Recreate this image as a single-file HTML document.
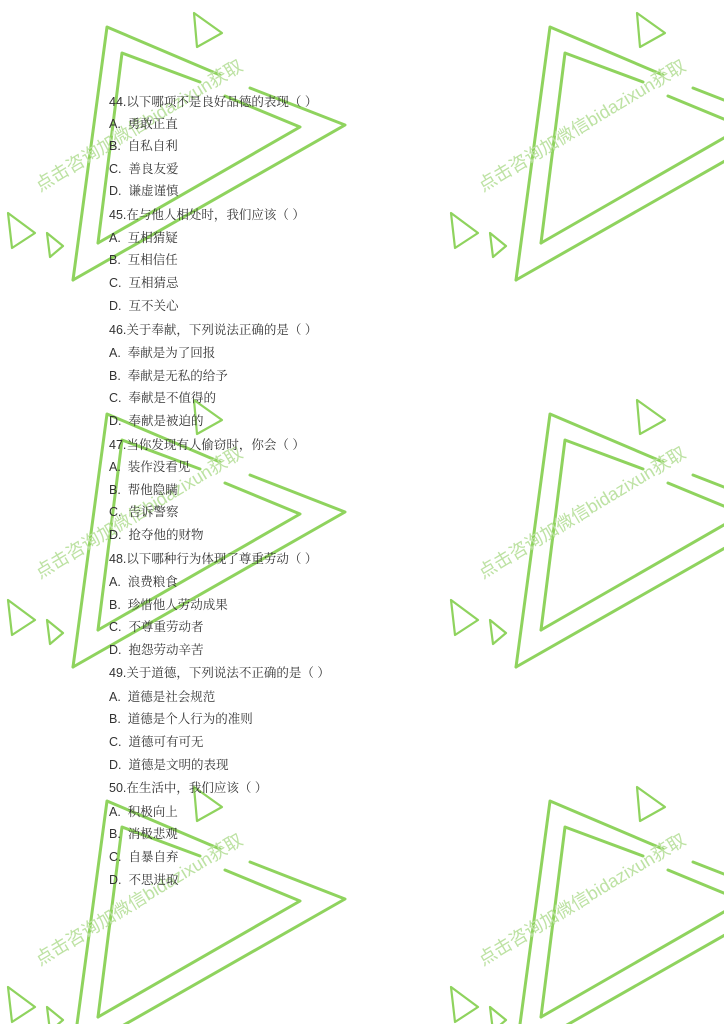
<!DOCTYPE html>
<html><head><meta charset="utf-8">
<style>
html,body{margin:0;padding:0;background:#fff;}
body{width:724px;height:1024px;position:relative;overflow:hidden;}
svg{position:absolute;left:0;top:0;}
.t{position:absolute;left:109px;font-family:"Liberation Sans","Noto Serif CJK SC",serif;font-size:12.5px;color:#333;white-space:pre;line-height:14px;}
.wm{font-family:"Liberation Sans","Noto Sans CJK SC",sans-serif;font-size:18px;fill:#bde2a3;}
</style></head><body>
<svg width="724" height="1024" viewBox="0 0 724 1024">
<defs>
<g id="tile" fill="none" stroke="#8fd35e" stroke-width="3" stroke-linecap="round" stroke-linejoin="round">
  <polyline points="73,280 107,27 220,75"/>
  <polyline points="250,88 345,125 73,280"/>
  <polyline points="98,243 122,53 200,82"/>
  <polyline points="225,96 300,127 98,243"/>
  <polygon points="194,13 222,33 197,47" stroke-width="2.2"/>
  <polygon points="8,213 35,233 12,248" stroke-width="2.2"/>
  <polygon points="47,233 63,246 50,257" stroke-width="2.2"/>
</g>
</defs>
<use href="#tile" x="0" y="0"/><use href="#tile" x="443" y="0"/>
<use href="#tile" x="0" y="387"/><use href="#tile" x="443" y="387"/>
<use href="#tile" x="0" y="774"/><use href="#tile" x="443" y="774"/>
<text class="wm" transform="translate(40,192) rotate(-31)">点击咨询加微信bidazixun获取</text>
<text class="wm" transform="translate(483,192) rotate(-31)">点击咨询加微信bidazixun获取</text>
<text class="wm" transform="translate(40,579) rotate(-31)">点击咨询加微信bidazixun获取</text>
<text class="wm" transform="translate(483,579) rotate(-31)">点击咨询加微信bidazixun获取</text>
<text class="wm" transform="translate(40,966) rotate(-31)">点击咨询加微信bidazixun获取</text>
<text class="wm" transform="translate(483,966) rotate(-31)">点击咨询加微信bidazixun获取</text>
</svg>
<div class="t" style="top:95px">44.以下哪项不是良好品德的表现（ ）</div>
<div class="t" style="top:117px">A.  勇敢正直</div>
<div class="t" style="top:139px">B.  自私自利</div>
<div class="t" style="top:162px">C.  善良友爱</div>
<div class="t" style="top:184px">D.  谦虚谨慎</div>
<div class="t" style="top:208px">45.在与他人相处时，我们应该（ ）</div>
<div class="t" style="top:231px">A.  互相猜疑</div>
<div class="t" style="top:253px">B.  互相信任</div>
<div class="t" style="top:276px">C.  互相猜忌</div>
<div class="t" style="top:299px">D.  互不关心</div>
<div class="t" style="top:323px">46.关于奉献，下列说法正确的是（ ）</div>
<div class="t" style="top:346px">A.  奉献是为了回报</div>
<div class="t" style="top:369px">B.  奉献是无私的给予</div>
<div class="t" style="top:391px">C.  奉献是不值得的</div>
<div class="t" style="top:414px">D.  奉献是被迫的</div>
<div class="t" style="top:438px">47.当你发现有人偷窃时，你会（ ）</div>
<div class="t" style="top:460px">A.  装作没看见</div>
<div class="t" style="top:483px">B.  帮他隐瞒</div>
<div class="t" style="top:505px">C.  告诉警察</div>
<div class="t" style="top:528px">D.  抢夺他的财物</div>
<div class="t" style="top:552px">48.以下哪种行为体现了尊重劳动（ ）</div>
<div class="t" style="top:575px">A.  浪费粮食</div>
<div class="t" style="top:598px">B.  珍惜他人劳动成果</div>
<div class="t" style="top:620px">C.  不尊重劳动者</div>
<div class="t" style="top:643px">D.  抱怨劳动辛苦</div>
<div class="t" style="top:666px">49.关于道德，下列说法不正确的是（ ）</div>
<div class="t" style="top:690px">A.  道德是社会规范</div>
<div class="t" style="top:712px">B.  道德是个人行为的准则</div>
<div class="t" style="top:735px">C.  道德可有可无</div>
<div class="t" style="top:758px">D.  道德是文明的表现</div>
<div class="t" style="top:781px">50.在生活中，我们应该（ ）</div>
<div class="t" style="top:805px">A.  积极向上</div>
<div class="t" style="top:827px">B.  消极悲观</div>
<div class="t" style="top:850px">C.  自暴自弃</div>
<div class="t" style="top:873px">D.  不思进取</div>
</body></html>
